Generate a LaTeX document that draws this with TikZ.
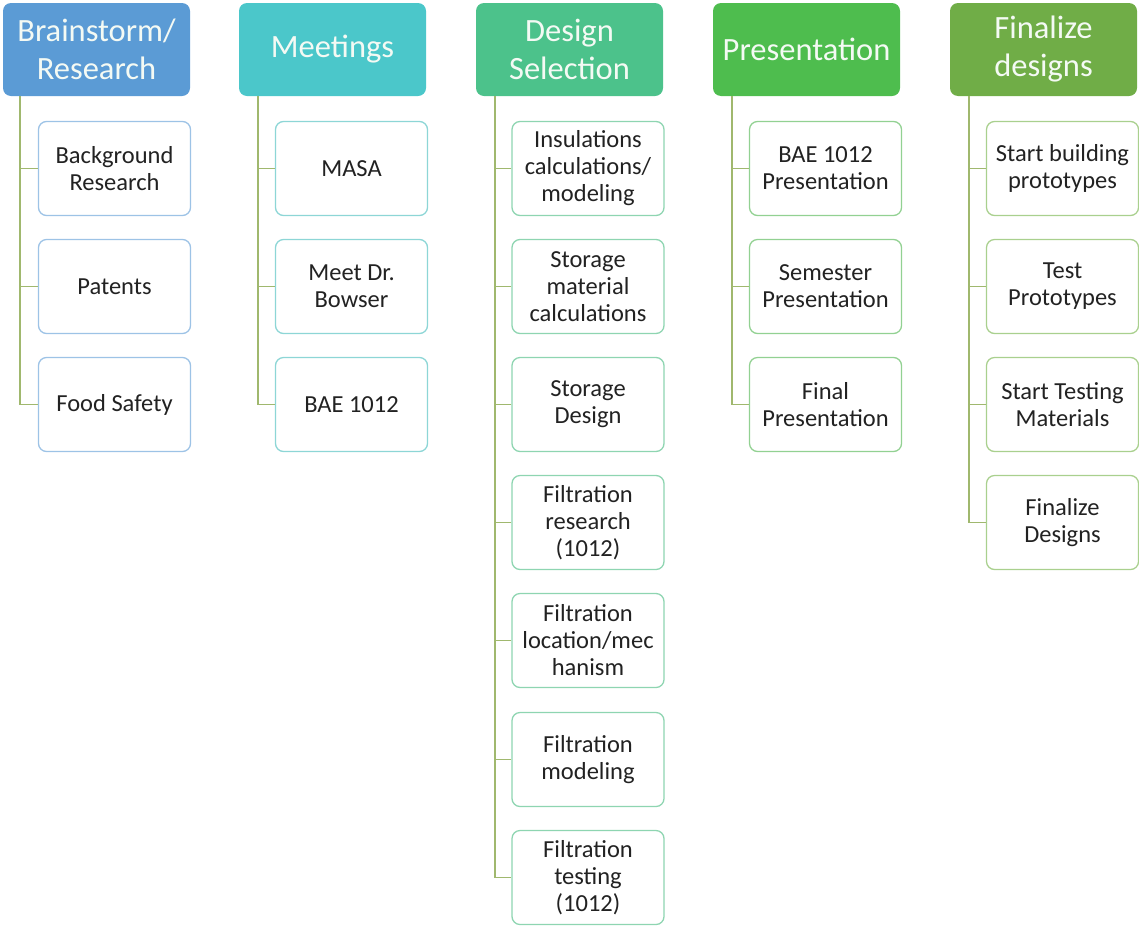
\documentclass[tikz,border=0pt]{standalone}
\usepackage{fontspec}
\setmainfont{Carlito}
\usetikzlibrary{calc}
\definecolor{hA}{HTML}{5B9BD5}\definecolor{bA}{HTML}{9DC3E6}
\definecolor{hB}{HTML}{4BC7CA}\definecolor{bB}{HTML}{8DD6D6}
\definecolor{hC}{HTML}{4CC28B}\definecolor{bC}{HTML}{8ED5B1}
\definecolor{hD}{HTML}{4EBD4E}\definecolor{bD}{HTML}{92D192}
\definecolor{hE}{HTML}{70AD47}\definecolor{bE}{HTML}{A9D08E}
\definecolor{conn}{HTML}{A0B86E}
\definecolor{txt}{HTML}{222222}
\definecolor{htxt}{HTML}{F4FAF4}
\tikzset{
  head/.style={rounded corners=8pt, minimum width=187pt, minimum height=93pt, inner sep=0pt,
    align=center, text=htxt, font=\fontsize{32.5}{38}\selectfont},
  child/.style={draw, line width=1.3pt, fill=white, rounded corners=8pt, minimum width=152pt, minimum height=94pt,
    inner sep=0pt, align=center, text=txt, font=\fontsize{24.5}{27}\selectfont},
  link/.style={draw=conn, line width=1.6pt},
}
\begin{document}
\begin{tikzpicture}[x=1pt,y=-1pt]
\useasboundingbox (0,0) rectangle (1139,927);
% headers
\node[head, fill=hA] (h1) at (96.5,49.5) {Brainstorm/\\Research};
\node[head, fill=hB] (h2) at (332.5,49.5) {Meetings};
\node[head, fill=hC] (h3) at (569.5,49.5) {Design\\Selection};
\node[head, fill=hD] (h4) at (806.5,49.5) {Presentation};
\node[head, fill=hE] (h5) at (1043.5,49.5) {Finalize\\designs};
% trunk coordinates
\coordinate (t1) at ($(h1.south west)+(17,0)$);
\coordinate (t2) at ($(h2.south west)+(19,0)$);
\coordinate (t3) at ($(h3.south west)+(19,0)$);
\coordinate (t4) at ($(h4.south west)+(19,0)$);
\coordinate (t5) at ($(h5.south west)+(19,0)$);
% column 1
\node[child, draw=bA] (a1) at (114.5,168.5) {Background\\Research};
\node[child, draw=bA] (a2) at (114.5,286.5) {Patents};
\node[child, draw=bA] (a3) at (114.5,404.5) {Food Safety};
% column 2
\node[child, draw=bB] (b1) at (351.5,168.5) {MASA};
\node[child, draw=bB] (b2) at (351.5,286.5) {Meet Dr.\\Bowser};
\node[child, draw=bB] (b3) at (351.5,404.5) {BAE 1012};
% column 3
\node[child, draw=bC] (c1) at (588,168.5) {Insulations\\calculations/\\modeling};
\node[child, draw=bC] (c2) at (588,286.5) {Storage\\material\\calculations};
\node[child, draw=bC] (c3) at (588,404.5) {Storage\\Design};
\node[child, draw=bC] (c4) at (588,522.5) {Filtration\\research\\(1012)};
\node[child, draw=bC] (c5) at (588,640.5) {Filtration\\location/mec\\hanism};
\node[child, draw=bC] (c6) at (588,759.5) {Filtration\\modeling};
\node[child, draw=bC] (c7) at (588,877.5) {Filtration\\testing\\(1012)};
% column 4
\node[child, draw=bD] (d1) at (825.5,168.5) {BAE 1012\\Presentation};
\node[child, draw=bD] (d2) at (825.5,286.5) {Semester\\Presentation};
\node[child, draw=bD] (d3) at (825.5,404.5) {Final\\Presentation};
% column 5
\node[child, draw=bE] (e1) at (1062.5,168.5) {Start building\\prototypes};
\node[child, draw=bE] (e2) at (1062.5,286.5) {Test\\Prototypes};
\node[child, draw=bE] (e3) at (1062.5,404.5) {Start Testing\\Materials};
\node[child, draw=bE] (e4) at (1062.5,522.5) {Finalize\\Designs};
% connectors
\path[link] (t1) |- (a3.west);
\foreach \n in {a1,a2} \path[link] (\n.west) -- (\n.west -| t1);
\path[link] (t2) |- (b3.west);
\foreach \n in {b1,b2} \path[link] (\n.west) -- (\n.west -| t2);
\path[link] (t3) |- (c7.west);
\foreach \n in {c1,c2,c3,c4,c5,c6} \path[link] (\n.west) -- (\n.west -| t3);
\path[link] (t4) |- (d3.west);
\foreach \n in {d1,d2} \path[link] (\n.west) -- (\n.west -| t4);
\path[link] (t5) |- (e4.west);
\foreach \n in {e1,e2,e3} \path[link] (\n.west) -- (\n.west -| t5);
\end{tikzpicture}
\end{document}
